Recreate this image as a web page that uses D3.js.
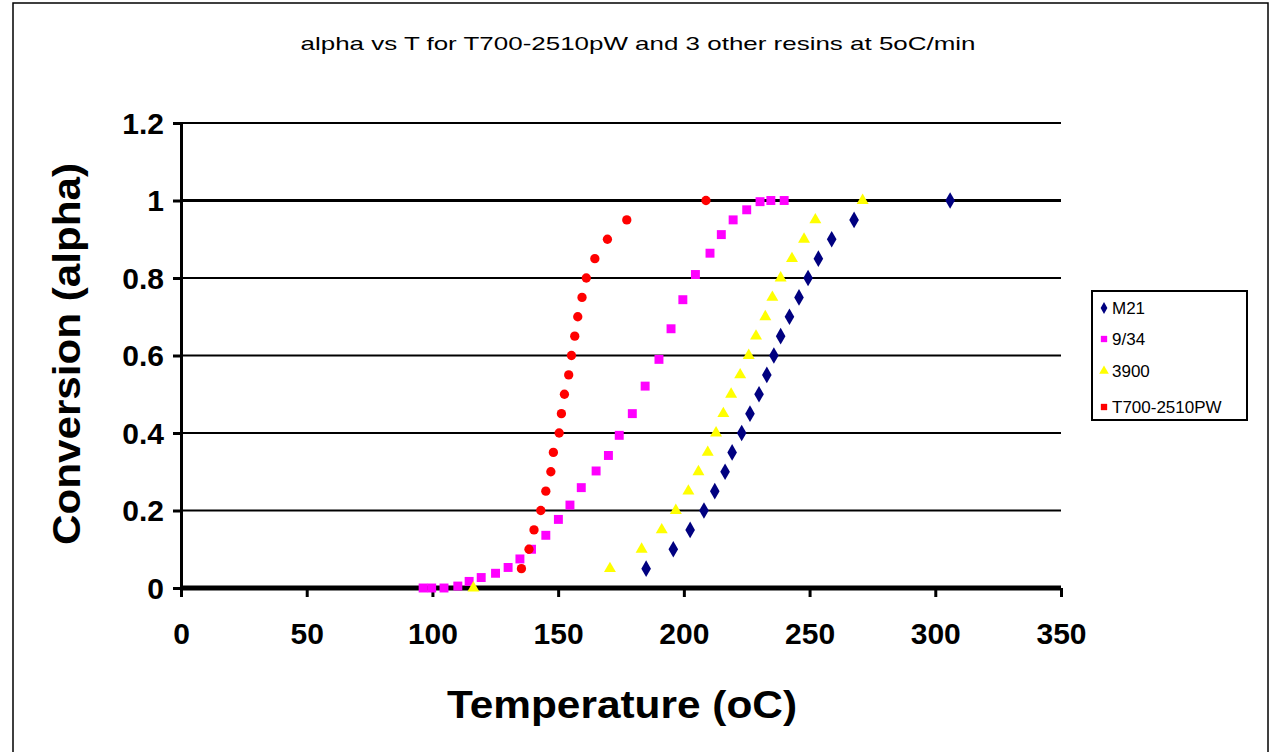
<!DOCTYPE html>
<html><head><meta charset="utf-8">
<script src="https://cdn.jsdelivr.net/npm/d3@7"></script>
<style>html,body{margin:0;padding:0;background:#fff;}svg{display:block;}</style>
</head><body>
<svg id="c" width="1270" height="752"></svg>
<script>
const seriesNames = ["M21", "9/34", "3900", "T700-2510PW"];
const seriesColors = ["#000080", "#FF00FF", "#FFFF00", "#FF0000"];
const xTicks = [0, 50, 100, 150, 200, 250, 300, 350];
const yTicks = [0, 0.2, 0.4, 0.6, 0.8, 1, 1.2];

const m21T = [185, 195.8, 202.5, 208, 212.3, 216.4, 219.2, 223, 226.3, 229.9, 233, 235.8, 238.5, 242, 245.8, 249.4, 253.5, 258.8, 267.7, 305.9];
const m21A = [0.05, 0.1, 0.15, 0.2, 0.25, 0.3, 0.35, 0.4, 0.45, 0.5, 0.55, 0.6, 0.65, 0.7, 0.75, 0.8, 0.85, 0.9, 0.95, 1.0];

const s934T = [96.3, 99.7, 104.6, 110.1, 114.6, 119.4, 125.1, 130.1, 134.8, 139.4, 145.1, 150.1, 154.7, 159.2, 165.1, 170, 174.3, 179.5, 184.6, 190.1, 194.9, 199.6, 204.6, 210.4, 214.9, 219.6, 225, 230.3, 234.6, 239.9];
const s934A = [0, 0, 0, 0.005, 0.017, 0.027, 0.038, 0.053, 0.075, 0.1, 0.136, 0.177, 0.214, 0.259, 0.302, 0.342, 0.394, 0.45, 0.521, 0.59, 0.669, 0.744, 0.809, 0.864, 0.912, 0.95, 0.976, 0.997, 1.0, 1.0];

const s3900T = [116.3, 170.6, 183.2, 191.2, 196.8, 201.8, 205.8, 209.5, 212.8, 215.7, 218.8, 222.4, 225.8, 228.7, 232.4, 235.2, 238.5, 243, 247.8, 252.3, 271.1];
const s3900A = [0, 0.05, 0.1, 0.15, 0.2, 0.25, 0.3, 0.35, 0.4, 0.45, 0.5, 0.55, 0.6, 0.65, 0.7, 0.75, 0.8, 0.85, 0.9, 0.95, 1.0];

const t700T = [135.4, 138.4, 140.4, 143.1, 145.1, 147.1, 148.1, 150.4, 151.3, 152.5, 154.2, 155.3, 156.6, 157.8, 159.5, 161.2, 164.6, 169.6, 177.3, 208.8];
const t700A = [0.05, 0.1, 0.15, 0.2, 0.25, 0.3, 0.35, 0.4, 0.45, 0.5, 0.55, 0.6, 0.65, 0.7, 0.75, 0.8, 0.85, 0.9, 0.95, 1.0];

const titleText = "alpha vs T for T700-2510pW  and 3 other resins at 5oC/min";
const xLabel = "Temperature (oC)";
const yLabel = "Conversion (alpha)";

const svg = d3.select("#c");
const x = d3.scaleLinear().domain([0, 350]).range([181, 1061]);
const y = d3.scaleLinear().domain([0, 1.2]).range([588, 123]);
const FONT = "Liberation Sans, Arial, sans-serif";

// outer border
svg.append("rect").attr("x", 13).attr("y", 3).attr("width", 1255).attr("height", 760)
  .attr("fill", "none").attr("stroke", "#000").attr("stroke-width", 1.5);

// title
svg.append("text").attr("x", 638).attr("y", 50).attr("text-anchor", "middle")
  .attr("font-family", FONT).attr("font-size", 19)
  .attr("textLength", 675).attr("lengthAdjust", "spacingAndGlyphs")
  .text(titleText);

// gridlines
svg.append("g").selectAll("line").data(yTicks.filter(d => d > 0)).join("line")
  .attr("x1", x(0)).attr("x2", x(350)).attr("y1", d => y(d)).attr("y2", d => y(d))
  .attr("stroke", "#000").attr("stroke-width", d => d === 1 ? 3 : 2);

// y axis
const yAxis = svg.append("g").attr("transform", `translate(${x(0)},0)`)
  .call(d3.axisLeft(y).tickValues(yTicks).tickSize(8).tickPadding(9).tickFormat(d3.format("")));
yAxis.select(".domain").attr("stroke-width", 3);
yAxis.selectAll(".tick line").attr("stroke-width", 3);
yAxis.selectAll("text").attr("font-family", FONT)
  .attr("font-size", 30).attr("font-weight", "bold").attr("fill", "#000").attr("dy", "0.34em");

// x axis
const xAxis = svg.append("g").attr("transform", `translate(0,${y(0)})`)
  .call(d3.axisBottom(x).tickValues(xTicks).tickSize(9).tickPadding(26).tickFormat(d3.format("")));
xAxis.select(".domain").attr("stroke-width", 5).attr("d", `M${x(0)},0H${x(350)}`);
xAxis.selectAll(".tick line").attr("stroke-width", 3);
xAxis.selectAll("text").attr("font-family", FONT)
  .attr("font-size", 30).attr("font-weight", "bold").attr("fill", "#000");

// axis titles
svg.append("text").attr("x", 622).attr("y", 718).attr("text-anchor", "middle")
  .attr("font-family", FONT).attr("font-size", 38).attr("font-weight", "bold")
  .attr("textLength", 350).attr("lengthAdjust", "spacingAndGlyphs").text(xLabel);
svg.append("text").attr("transform", "translate(80,354) rotate(-90)").attr("text-anchor", "middle")
  .attr("font-family", FONT).attr("font-size", 39).attr("font-weight", "bold")
  .attr("textLength", 382).attr("lengthAdjust", "spacingAndGlyphs").text(yLabel);

// data series
const series = [
  {T: m21T, A: m21A, shape: d3.symbolDiamond, size: 80},
  {T: s934T, A: s934A, shape: d3.symbolSquare, size: 80},
  {T: s3900T, A: s3900A, shape: d3.symbolTriangle, size: 62},
  {T: t700T, A: t700A, shape: d3.symbolCircle, size: 68}
];
const plot = svg.append("g");
series.forEach((s, i) => {
  plot.append("g").selectAll("path").data(s.T.map((t, j) => [t, s.A[j]])).join("path")
    .attr("transform", d => `translate(${x(d[0])},${y(d[1])})`)
    .attr("d", d3.symbol().type(s.shape).size(s.size))
    .attr("fill", seriesColors[i]);
});

// legend
const lg = svg.append("g");
lg.append("rect").attr("x", 1092).attr("y", 291).attr("width", 155).attr("height", 129)
  .attr("fill", "#fff").attr("stroke", "#000").attr("stroke-width", 2);
const legendShapes = [d3.symbolDiamond, d3.symbolSquare, d3.symbolTriangle, d3.symbolSquare];
const legendY = [308, 339, 371, 407];
seriesNames.forEach((n, i) => {
  lg.append("path").attr("transform", `translate(1104,${legendY[i]})`)
    .attr("d", d3.symbol().type(legendShapes[i]).size(40)).attr("fill", seriesColors[i]);
  lg.append("text").attr("x", 1112).attr("y", legendY[i] + 6)
    .attr("font-family", FONT).attr("font-size", 17).attr("fill", "#000")
    .text(n);
});
</script>
</body></html>
